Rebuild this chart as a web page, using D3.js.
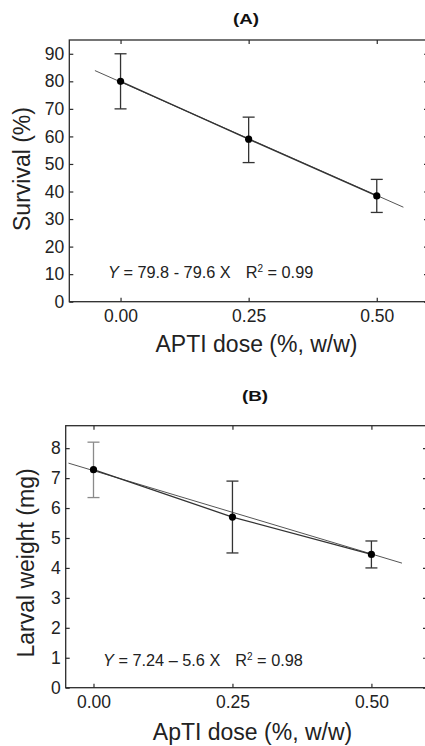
<!DOCTYPE html>
<html>
<head>
<meta charset="utf-8">
<script src="https://cdn.jsdelivr.net/npm/d3@7"></script>
<style>
  body { margin: 0; background: #fff; }
  svg { display: block; font-family: "Liberation Sans", Arial, sans-serif; }
</style>
</head>
<body>
<div id="wrapper"></div>
<script>
// Panel A - survival
const doses = [0, 0.25, 0.5]
const survival = [80, 59, 38.4]
const survivalLow = [70, 50.5, 32.4]
const survivalHigh = [90, 67, 44.4]
const survivalFit = [[-0.05, 83.9], [0.552, 34.3]]
const survivalTicks = [0, 10, 20, 30, 40, 50, 60, 70, 80, 90]

// Panel B - larval weight
const weight = [7.28, 5.7, 4.45]
const weightLow = [6.35, 4.5, 4.0]
const weightHigh = [8.2, 6.9, 4.9]
const weightFit = [[-0.045, 7.5], [0.555, 4.16]]
const weightTicks = [0, 1, 2, 3, 4, 5, 6, 7, 8]

const doseTicks = [0, 0.25, 0.5]

const svg = d3.select("#wrapper")
  .append("svg")
  .attr("width", 425)
  .attr("height", 746)

const ink = "#2b2b2b"

function drawPanel(p) {
  const x = d3.scaleLinear().domain(p.xDomain).range([p.left, p.right])
  const y = d3.scaleLinear().domain(p.yDomain).range([p.bottom, p.top])

  const g = svg.append("g")

  // frame
  g.append("rect")
    .attr("x", p.left)
    .attr("y", p.top)
    .attr("width", p.right - p.left)
    .attr("height", p.bottom - p.top)
    .attr("fill", "none")
    .attr("stroke", ink)
    .attr("stroke-width", 1.3)

  // axes, ticks pointing inward on all four sides
  const styleAxis = a => {
    a.select(".domain").remove()
    a.selectAll("line").attr("stroke", ink).attr("stroke-width", 1.2)
    a.selectAll("text").attr("fill", "#222").style("font-size", "17.5px")
  }

  g.append("g")
    .attr("transform", `translate(0,${p.bottom})`)
    .call(d3.axisBottom(x).tickValues(doseTicks).tickFormat(d3.format(".2f"))
      .tickSizeInner(-4).tickSizeOuter(0).tickPadding(8))
    .call(styleAxis)

  g.append("g")
    .attr("transform", `translate(0,${p.top})`)
    .call(d3.axisTop(x).tickValues(doseTicks).tickFormat("")
      .tickSizeInner(-4).tickSizeOuter(0))
    .call(styleAxis)

  g.append("g")
    .attr("transform", `translate(${p.left},0)`)
    .call(d3.axisLeft(y).tickValues(p.yTicks)
      .tickSizeInner(-4).tickSizeOuter(0).tickPadding(5))
    .call(styleAxis)

  g.append("g")
    .attr("transform", `translate(${p.right},0)`)
    .call(d3.axisRight(y).tickValues(p.yTicks).tickFormat("")
      .tickSizeInner(-4).tickSizeOuter(0))
    .call(styleAxis)

  // fitted line
  g.append("path")
    .datum(p.fit)
    .attr("d", d3.line().x(d => x(d[0])).y(d => y(d[1])))
    .attr("fill", "none")
    .attr("stroke", "#555")
    .attr("stroke-width", 1)

  // line through the means
  g.append("path")
    .datum(doses.map((d, i) => [d, p.mean[i]]))
    .attr("d", d3.line().x(d => x(d[0])).y(d => y(d[1])))
    .attr("fill", "none")
    .attr("stroke", "#333")
    .attr("stroke-width", 1.3)

  // error bars
  const cap = 6
  const bars = g.append("g")
    .selectAll("g")
    .data(doses)
    .join("g")
    .attr("stroke", (d, i) => p.greyFirst && i === 0 ? "#8a8a8a" : "#333")
    .attr("stroke-width", 1.3)

  bars.append("line")
    .attr("x1", d => x(d)).attr("x2", d => x(d))
    .attr("y1", (d, i) => y(p.low[i])).attr("y2", (d, i) => y(p.high[i]))
  bars.append("line")
    .attr("x1", d => x(d) - cap).attr("x2", d => x(d) + cap)
    .attr("y1", (d, i) => y(p.high[i])).attr("y2", (d, i) => y(p.high[i]))
  bars.append("line")
    .attr("x1", d => x(d) - cap).attr("x2", d => x(d) + cap)
    .attr("y1", (d, i) => y(p.low[i])).attr("y2", (d, i) => y(p.low[i]))

  // points
  g.append("g")
    .selectAll("circle")
    .data(doses)
    .join("circle")
    .attr("cx", d => x(d))
    .attr("cy", (d, i) => y(p.mean[i]))
    .attr("r", 3.6)
    .attr("fill", "#000")

  // panel title (wide bold face in the original)
  g.append("text")
    .attr("transform", `translate(${p.titleX},${p.titleY}) scale(1.3,1)`)
    .attr("text-anchor", "middle")
    .attr("font-weight", "bold")
    .style("font-size", "14.5px")
    .attr("fill", "#111")
    .text(p.title)

  // equation
  const eq = g.append("text")
    .attr("x", p.eqX)
    .attr("y", p.eqY)
    .style("font-size", "16.3px")
    .attr("fill", "#222")
  eq.append("tspan").attr("font-style", "italic").text("Y")
  eq.append("tspan").text(p.eqText)
  eq.append("tspan").attr("dx", 15).text("R")
  eq.append("tspan").attr("dy", -6).style("font-size", "10px").text("2")
  eq.append("tspan").attr("dy", 6).text(p.r2Text)

  // axis titles
  g.append("text")
    .attr("x", p.xLabelX)
    .attr("y", p.xLabelY)
    .attr("text-anchor", "middle")
    .style("font-size", "23px")
    .attr("fill", "#222")
    .text(p.xLabel)

  g.append("text")
    .attr("transform", `translate(${p.yLabelX},${p.yLabelY}) rotate(-90)`)
    .attr("text-anchor", "middle")
    .style("font-size", "23px")
    .attr("fill", "#222")
    .text(p.yLabel)
}

drawPanel({
  left: 69.3, right: 428, top: 40, bottom: 301.7,
  xDomain: [-0.1, 0.6], yDomain: [0, 95], yTicks: survivalTicks,
  mean: survival, low: survivalLow, high: survivalHigh, fit: survivalFit,
  title: "(A)", titleX: 246, titleY: 24,
  eqX: 108, eqY: 278, eqText: " = 79.8 - 79.6 X", r2Text: " = 0.99",
  xLabel: "APTI dose (%, w/w)", xLabelX: 256.5, xLabelY: 352,
  yLabel: "Survival (%)", yLabelX: 29.5, yLabelY: 169
})

drawPanel({
  left: 65.7, right: 427, top: 425.7, bottom: 687.7,
  xDomain: [-0.05, 0.6], yDomain: [0, 8.75], yTicks: weightTicks,
  mean: weight, low: weightLow, high: weightHigh, fit: weightFit,
  greyFirst: true,
  title: "(B)", titleX: 255, titleY: 401,
  eqX: 103, eqY: 665.5, eqText: " = 7.24 \u2013 5.6 X", r2Text: " = 0.98",
  xLabel: "ApTI dose (%, w/w)", xLabelX: 252.5, xLabelY: 740,
  yLabel: "Larval weight (mg)", yLabelX: 34, yLabelY: 563
})
</script>
</body>
</html>
